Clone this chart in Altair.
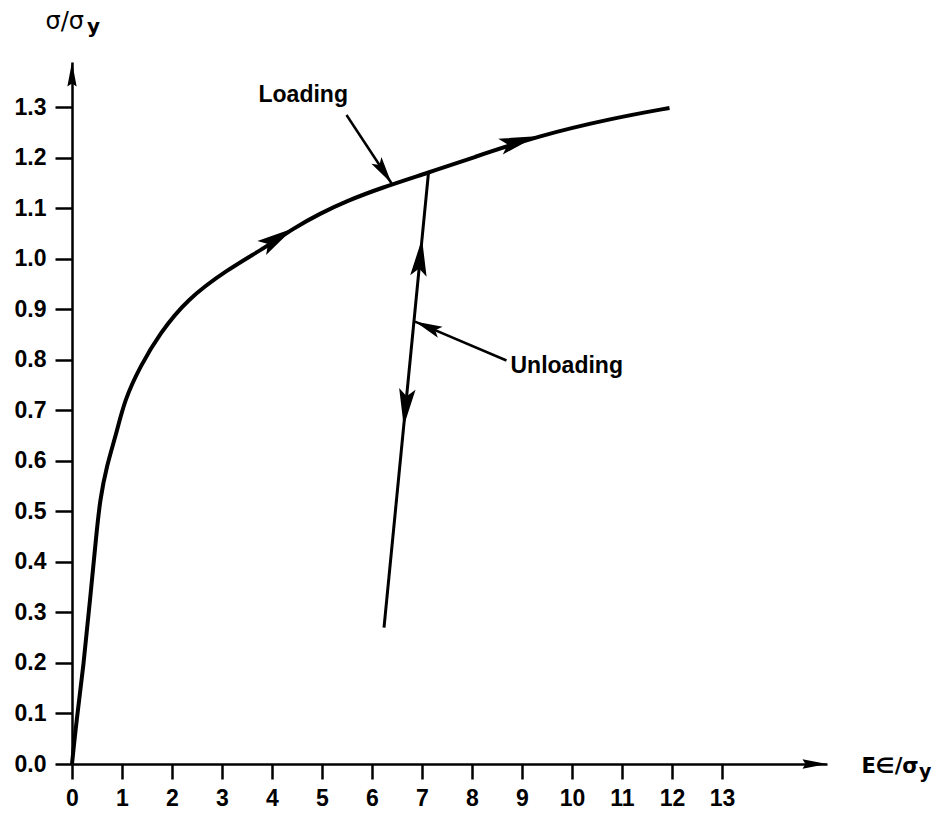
import math
import altair as alt
import numpy as np
import pandas as pd

# ---------------- data ----------------
# loading curve  (E*eps/sigma_y , sigma/sigma_y)
load_x = [0.0, 0.09, 0.23, 0.36, 0.49, 0.56, 0.69, 0.89, 1.05, 1.36, 1.76, 2.29,
          3.09, 3.89, 4.43, 4.96, 5.5, 6.16, 7.13, 8.0, 9.29, 10.83, 11.95]
load_y = [0.0, 0.087, 0.193, 0.325, 0.457, 0.523, 0.589, 0.655, 0.72, 0.787, 0.853, 0.919,
          0.978, 1.024, 1.061, 1.09, 1.115, 1.14, 1.171, 1.2, 1.243, 1.279, 1.299]

# unloading line
unload_x = [7.13, 6.24]
unload_y = [1.171, 0.27]

# direction arrows: tips on the loading curve (x) and on the unloading line (y)
curve_arrow_x = [4.43, 9.29]
unload_arrow_y = [1.04, 0.669]
unload_arrow_dir = ["up", "down"]

# annotation labels and their pointers
label_text = ["Loading", "Unloading"]
label_x = [3.73, 8.77]
label_y = [1.310, 0.774]
pointer_x1 = [5.49, 8.69]
pointer_y1 = [1.285, 0.799]
pointer_x2 = [6.39, 6.86]
pointer_y2 = [1.150, 0.876]

x_ticks = [0, 1, 2, 3, 4, 5, 6, 7, 8, 9, 10, 11, 12, 13]
y_ticks = [0.0, 0.1, 0.2, 0.3, 0.4, 0.5, 0.6, 0.7, 0.8, 0.9, 1.0, 1.1, 1.2, 1.3]

X_MAX = 15.1
Y_MAX = 1.39
PX_X = 50.0    # pixels per x unit
PX_Y = 505.0   # pixels per y unit
W = round(X_MAX * PX_X)
H = round(Y_MAX * PX_Y)

# ---------------- tables ----------------
curve_df = pd.DataFrame({"x": load_x, "y": load_y, "o": range(len(load_x))})
unload_df = pd.DataFrame({"x": unload_x, "y": unload_y})


def ang(dx, dy):
    return math.degrees(math.atan2(dx * PX_X, dy * PX_Y)) % 360


rows = []
for cx in curve_arrow_x:
    cy = float(np.interp(cx, load_x, load_y))
    ya = float(np.interp(cx - 0.3, load_x, load_y))
    yb = float(np.interp(cx + 0.3, load_x, load_y))
    rows.append({"x": cx, "y": cy, "a": ang(0.6, yb - ya)})
ux_sorted = unload_x[::-1]
uy_sorted = unload_y[::-1]
for uy, d in zip(unload_arrow_y, unload_arrow_dir):
    ux = float(np.interp(uy, uy_sorted, ux_sorted))
    dx = unload_x[0] - unload_x[1]
    dy = unload_y[0] - unload_y[1]
    if d == "down":
        dx, dy = -dx, -dy
    rows.append({"x": ux, "y": uy, "a": ang(dx, dy)})
heads_df = pd.DataFrame(rows)

label_df = pd.DataFrame({"t": label_text, "x": label_x, "y": label_y})
ptr_df = pd.DataFrame({"x": pointer_x1, "y": pointer_y1, "x2": pointer_x2, "y2": pointer_y2})
ptr_df["a"] = [ang(b - a, d - c) for a, b, c, d in zip(pointer_x1, pointer_x2, pointer_y1, pointer_y2)]

axis_arrows_df = pd.DataFrame({"x": [X_MAX, 0.0], "y": [0.0, Y_MAX], "a": [90.0, 0.0]})

# ---------------- scales / axes (identical in every layer) ----------------
xs = alt.Scale(domain=[0, X_MAX], nice=False, zero=False)
ys = alt.Scale(domain=[0, Y_MAX], nice=False, zero=False)

x_axis = alt.Axis(
    values=x_ticks, format="d", tickSize=15, labelPadding=8,
    title="E∈/σ", titleX=789, titleY=8, titleAlign="left",
    titleBaseline="alphabetic", titleAngle=0,
    titleFont="DejaVu Sans", titleFontSize=21, titleFontWeight="bold",
)
y_axis = alt.Axis(
    values=y_ticks, format=".1f", tickSize=17, labelPadding=9,
    title="σ/σ", titleX=-27, titleY=-34, titleAlign="left",
    titleBaseline="alphabetic", titleAngle=0,
    titleFont="DejaVu Sans", titleFontSize=24, titleFontWeight="normal",
)


def X(f):
    return alt.X(f"{f}:Q", scale=xs, axis=x_axis, title="E∈/σ")


def Y(f):
    return alt.Y(f"{f}:Q", scale=ys, axis=y_axis, title="σ/σ")


HEAD = "M0,0L0.22,1L0,0.8L-0.22,1Z"
AXHEAD = "M0,0L0.19,1L0,0.88L-0.19,1Z"

curve = alt.Chart(curve_df).mark_line(
    color="black", strokeWidth=4, interpolate="basis", clip=False
).encode(x=X("x"), y=Y("y"), order="o:Q")

unload = alt.Chart(unload_df).mark_line(color="black", strokeWidth=3).encode(
    x=X("x"), y=Y("y"),
)

heads = alt.Chart(heads_df).mark_point(
    shape=HEAD, size=5600, filled=True, color="black", opacity=1, strokeWidth=0
).encode(x=X("x"), y=Y("y"), angle=alt.Angle("a:Q", scale=None))

pointers = alt.Chart(ptr_df).mark_rule(color="black", strokeWidth=2.5).encode(
    x=X("x"), y=Y("y"), x2="x2:Q", y2="y2:Q",
)

pointer_heads = alt.Chart(ptr_df).mark_point(
    shape=HEAD, size=3000, filled=True, color="black", opacity=1, strokeWidth=0
).encode(x=X("x2"), y=Y("y2"), angle=alt.Angle("a:Q", scale=None))

axis_heads = alt.Chart(axis_arrows_df).mark_point(
    shape=AXHEAD, size=2400, filled=True, color="black", opacity=1, strokeWidth=0, clip=False
).encode(x=X("x"), y=Y("y"), angle=alt.Angle("a:Q", scale=None))

labels = alt.Chart(label_df).mark_text(
    align="left", baseline="alphabetic", font="Liberation Sans",
    fontWeight="bold", fontSize=23, color="black"
).encode(x=X("x"), y=Y("y"), text="t:N")

sub_y_title = alt.Chart(pd.DataFrame({"t": ["y"]})).mark_text(
    align="left", baseline="alphabetic", font="DejaVu Sans",
    fontWeight="bold", fontSize=20, color="black"
).encode(x=alt.value(15), y=alt.value(-29), text="t:N")

sub_x_title = alt.Chart(pd.DataFrame({"t": ["y"]})).mark_text(
    align="left", baseline="alphabetic", font="DejaVu Sans",
    fontWeight="bold", fontSize=19, color="black"
).encode(x=alt.value(847), y=alt.value(716), text="t:N")

chart = alt.layer(
    curve, unload, heads, pointers, pointer_heads, axis_heads, labels,
    sub_y_title, sub_x_title
).properties(
    width=W, height=H,
    padding={"left": 64, "top": 54, "right": 108, "bottom": 46},
    autosize=alt.AutoSizeParams(type="none"),
    background="white",
).configure_view(stroke=None).configure_axis(
    grid=False, domainColor="black", domainWidth=2.5, tickColor="black",
    tickWidth=2.5, labelColor="black", labelFont="Liberation Sans",
    labelFontWeight="bold", labelFontSize=23, labelFlush=False,
    labelOverlap=False, titleColor="black",
)

chart.save("out.html", embed_options={"renderer": "svg", "actions": False})
